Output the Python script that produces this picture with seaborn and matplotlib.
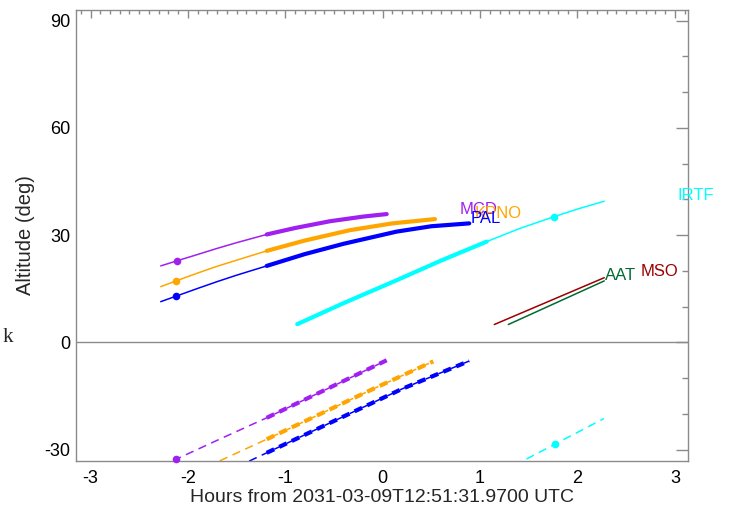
import matplotlib
matplotlib.use("Agg")
import pandas as pd
import matplotlib.pyplot as plt
import seaborn as sns
from matplotlib.ticker import MultipleLocator

sns.set_theme(style="white")
plt.rcParams["font.family"] = ["Liberation Sans", "DejaVu Sans"]
plt.rcParams["lines.scale_dashes"] = False
plt.rcParams["axes.unicode_minus"] = False

# Altitude (deg) of the target from each site, hours from the reference epoch
sites = ["MCD", "KPNO", "PAL", "IRTF", "MSO", "AAT"]
site_colors = ["#a020f0", "#ffa500", "#0000ff", "#00ffff", "#9b0000", "#006a33"]

mcd_hours = [-2.279, -2.115, -1.9, -1.7, -1.5, -1.191, -0.9, -0.541, -0.2, 0.041]
mcd_alt = [21.4, 22.8, 24.6, 26.3, 27.9, 30.2, 32.0, 33.9, 35.2, 35.9]
kpno_hours = [-2.279, -2.122, -1.9, -1.7, -1.5, -1.191, -0.8, -0.336, 0.1, 0.537]
kpno_alt = [15.6, 17.2, 19.4, 21.3, 23.0, 25.6, 28.5, 31.4, 33.3, 34.5]
pal_hours = [-2.279, -2.125, -1.9, -1.7, -1.5, -1.191, -0.8, -0.4, 0.144, 0.5, 0.889]
pal_alt = [11.4, 12.9, 15.1, 17.0, 18.8, 21.4, 24.7, 27.6, 31.0, 32.5, 33.3]
irtf_hours = [-0.877, -0.4, 0.144, 0.6, 1.068, 1.4, 1.762, 2.0, 2.275]
irtf_alt = [5.1, 11.0, 17.4, 22.9, 28.2, 31.8, 35.2, 37.3, 39.5]
mso_hours = [1.146, 2.275]
mso_alt = [5.0, 18.1]
aat_hours = [1.29, 2.275]
aat_alt = [5.0, 17.2]

# Sun altitude (deg) at the same sites (dashed)
mcd_sun_hours = [-2.279, -2.122, -1.7, -1.191, -0.6, 0.041]
mcd_sun_alt = [-34.7, -32.7, -27.4, -21.1, -13.4, -5.0]
kpno_sun_hours = [-1.8, -1.67, -1.191, -0.6, -0.097, 0.52]
kpno_sun_alt = [-34.8, -33.1, -27.1, -19.5, -13.0, -5.3]
pal_sun_hours = [-1.5, -1.362, -1.191, -0.5, 0.2, 0.889]
pal_sun_alt = [-34.9, -33.1, -30.9, -22.0, -13.0, -5.2]
irtf_sun_hours = [1.35, 1.444, 1.766, 2.272]
irtf_sun_alt = [-34.4, -33.1, -28.5, -21.3]

# dark-time windows (thick segments)
night_windows = {"MCD": (-1.191, 0.041), "KPNO": (-1.191, 0.537),
                 "PAL": (-1.191, 0.889), "IRTF": (-0.877, 1.068)}

# marked instant on each curve
mark_hours = {"MCD": -2.115, "KPNO": -2.122, "PAL": -2.125, "IRTF": 1.762}
mark_alt = {"MCD": 22.8, "KPNO": 17.2, "PAL": 12.9, "IRTF": 35.2}
sun_mark_hours = {"MCD": -2.122, "IRTF": 1.766}
sun_mark_alt = {"MCD": -32.7, "IRTF": -28.5}

target = {
    "MCD": (mcd_hours, mcd_alt), "KPNO": (kpno_hours, kpno_alt),
    "PAL": (pal_hours, pal_alt), "IRTF": (irtf_hours, irtf_alt),
    "MSO": (mso_hours, mso_alt), "AAT": (aat_hours, aat_alt),
}
sun = {
    "MCD": (mcd_sun_hours, mcd_sun_alt), "KPNO": (kpno_sun_hours, kpno_sun_alt),
    "PAL": (pal_sun_hours, pal_sun_alt), "IRTF": (irtf_sun_hours, irtf_sun_alt),
}

label_pos = {"MCD": (0.786, 37.2), "KPNO": (0.948, 36.1), "PAL": (0.903, 34.7),
             "IRTF": (3.03, 41.2), "AAT": (2.28, 18.6), "MSO": (2.65, 19.8)}

gray = "#8a8a8a"
fig = plt.figure(figsize=(7.29, 5.09), dpi=100)
ax = fig.add_axes([76 / 729, 1 - 460.7 / 509, 612 / 729, 450.7 / 509])

ax.axhline(0, color=gray, lw=1.0, zorder=1)


def in_window(df, name):
    lo, hi = night_windows[name]
    return df[(df.hours >= lo - 1e-6) & (df.hours <= hi + 1e-6)]


for name, col in zip(sites, site_colors):
    df = pd.DataFrame({"hours": target[name][0], "alt": target[name][1]})
    sns.lineplot(data=df, x="hours", y="alt", ax=ax, color=col, lw=1.1,
                 sort=False, estimator=None)
    if name in night_windows:
        sns.lineplot(data=in_window(df, name), x="hours", y="alt", ax=ax,
                     color=col, lw=3.0, sort=False, estimator=None)
    if name in sun:
        sdf = pd.DataFrame({"hours": sun[name][0], "alt": sun[name][1]})
        sns.lineplot(data=sdf, x="hours", y="alt", ax=ax, color=col, lw=1.1,
                     sort=False, estimator=None)
        ax.lines[-1].set_dashes((6, 4))
        if name in night_windows:
            sns.lineplot(data=in_window(sdf, name), x="hours", y="alt", ax=ax,
                         color=col, lw=3.0, sort=False, estimator=None)
            ax.lines[-1].set_dashes((6, 4))
    if name in mark_hours:
        sns.scatterplot(x=[mark_hours[name]], y=[mark_alt[name]], ax=ax,
                        color=col, s=30, linewidth=0, zorder=5)
    if name in sun_mark_hours:
        sns.scatterplot(x=[sun_mark_hours[name]], y=[sun_mark_alt[name]], ax=ax,
                        color=col, s=30, linewidth=0, zorder=5, clip_on=False)
    tx, ty = label_pos[name]
    ax.text(tx, ty, name, color=col, fontsize=12, ha="left", va="center",
            clip_on=False)

ax.set_xlim(-3.149, 3.135)
ax.set_ylim(-33.1, 93.0)
ax.xaxis.set_major_locator(MultipleLocator(1))
ax.xaxis.set_minor_locator(MultipleLocator(0.1))
ax.yaxis.set_major_locator(MultipleLocator(30))
ax.yaxis.set_minor_locator(MultipleLocator(10))
ax.tick_params(which="both", direction="in", top=True, right=True,
               color=gray, labelcolor="black", labelsize=13, width=1.0)
ax.tick_params(axis="x", which="major", length=6, pad=7)
ax.tick_params(axis="x", which="minor", length=3.2)
ax.tick_params(axis="y", which="major", length=8.6, pad=4)
ax.tick_params(axis="y", which="minor", length=4.3)
for sp in ax.spines.values():
    sp.set_color(gray)
    sp.set_linewidth(1.0)

ax.set_xlabel("Hours from 2031-03-09T12:51:31.9700 UTC", fontsize=14, labelpad=1)
ax.set_ylabel("Altitude (deg)", fontsize=14.5, labelpad=7)

fig.text(3 / 729, 1 - 337 / 509, "k", fontsize=15, va="center", ha="left",
         family=["Liberation Serif", "DejaVu Serif"])

fig.savefig("out.png", dpi=100)
